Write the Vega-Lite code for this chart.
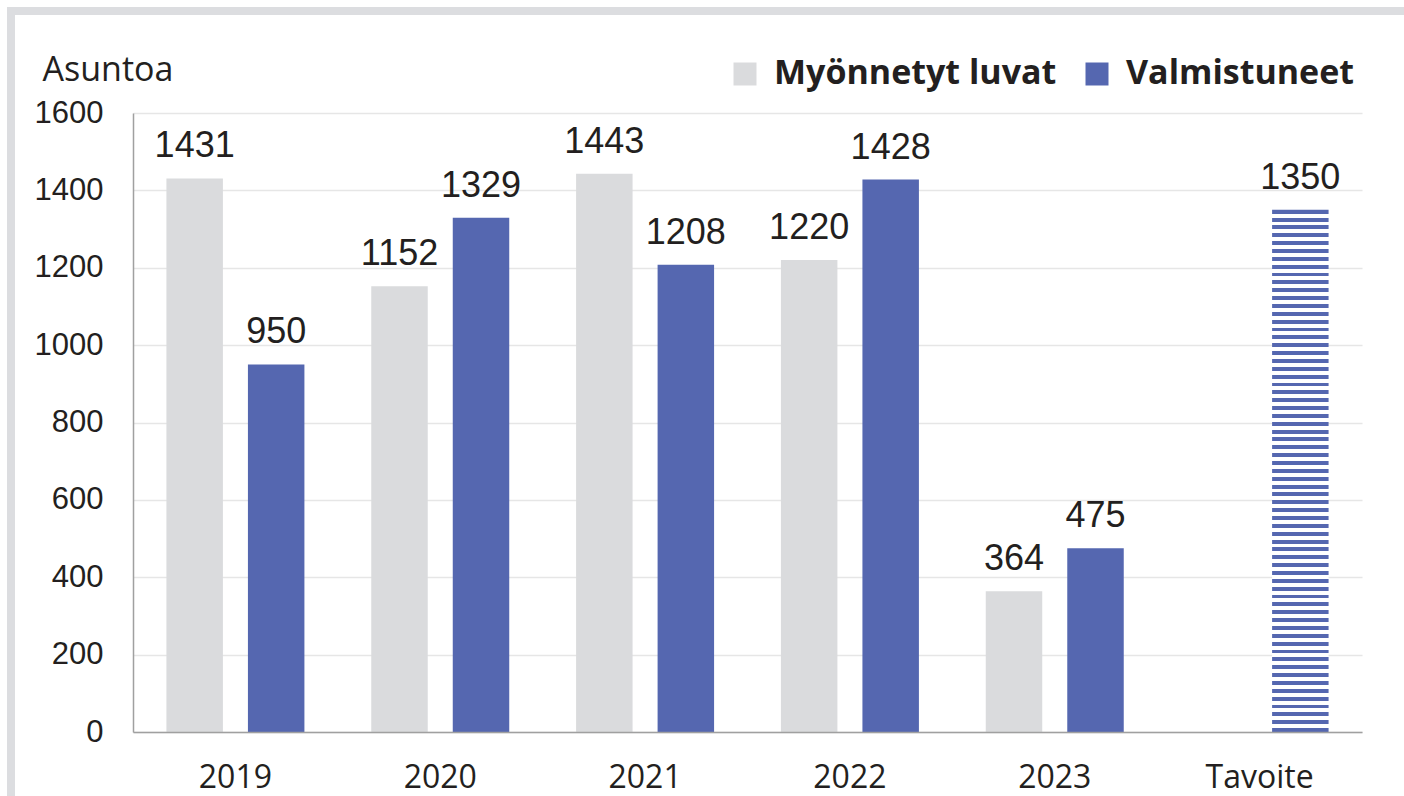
{
  "$schema": "https://vega.github.io/schema/vega-lite/v6.json",
  "width": 1393,
  "height": 785,
  "autosize": {"type": "none"},
  "padding": {"left": 11, "top": 11, "right": 0, "bottom": 0},
  "background": "#ffffff",
  "config": {
    "view": {"stroke": "#dcdde0", "strokeWidth": 8, "strokeDash": [1393, 2178, 785]},
    "text": {"font": "Liberation Sans"}
  },
  "data": {
    "values": [
      {"year": "2019", "series": "Myönnetyt luvat", "kind": "actual", "value": 1431},
      {"year": "2019", "series": "Valmistuneet", "kind": "actual", "value": 950},
      {"year": "2020", "series": "Myönnetyt luvat", "kind": "actual", "value": 1152},
      {"year": "2020", "series": "Valmistuneet", "kind": "actual", "value": 1329},
      {"year": "2021", "series": "Myönnetyt luvat", "kind": "actual", "value": 1443},
      {"year": "2021", "series": "Valmistuneet", "kind": "actual", "value": 1208},
      {"year": "2022", "series": "Myönnetyt luvat", "kind": "actual", "value": 1220},
      {"year": "2022", "series": "Valmistuneet", "kind": "actual", "value": 1428},
      {"year": "2023", "series": "Myönnetyt luvat", "kind": "actual", "value": 364},
      {"year": "2023", "series": "Valmistuneet", "kind": "actual", "value": 475},
      {"year": "Tavoite", "series": "Valmistuneet", "kind": "target", "value": 1350}
    ]
  },
  "encoding": {
    "x": {
      "field": "year", "type": "nominal", "sort": null,
      "scale": {"range": [122, 1351], "paddingInner": 0, "paddingOuter": 0},
      "axis": {
        "title": null, "labelAngle": 0, "labelFont": "Open Sans", "labelFontSize": 32,
        "labelColor": "#231f20", "labelPadding": 55, "labelBaseline": "alphabetic",
        "ticks": false, "tickSize": 0, "domain": true, "domainColor": "#a0a0a0",
        "domainWidth": 1.5, "grid": false, "offset": -64, "zindex": 1
      }
    },
    "xOffset": {
      "field": "series", "type": "nominal", "sort": null,
      "scale": {"domain": ["Myönnetyt luvat", "Valmistuneet"], "paddingInner": 0.307, "paddingOuter": 0.41}
    },
    "y": {
      "field": "value", "type": "quantitative",
      "scale": {"domain": [0, 1600], "range": [721, 102], "nice": false, "zero": true},
      "axis": {
        "title": "Asuntoa", "titleAngle": 0, "titleAlign": "left", "titleBaseline": "alphabetic",
        "titleX": -91, "titleY": 69, "titleFont": "Open Sans", "titleFontSize": 34,
        "titleFontWeight": "normal", "titleColor": "#231f20",
        "values": [0, 200, 400, 600, 800, 1000, 1200, 1400, 1600], "format": "d",
        "labelFont": "Liberation Sans", "labelFontSize": 31, "labelColor": "#231f20",
        "labelPadding": 30, "ticks": false, "tickSize": 0, "domain": true,
        "domainColor": "#a0a0a0", "domainWidth": 1.5, "grid": true,
        "gridColor": "#e6e6e6", "gridWidth": 1.5, "offset": -122
      }
    }
  },
  "layer": [
    {
      "transform": [{"filter": "datum.kind === 'actual'"}],
      "mark": {"type": "bar"},
      "encoding": {
        "color": {
          "field": "series", "type": "nominal",
          "scale": {"domain": ["Myönnetyt luvat", "Valmistuneet"], "range": ["#dadbdd", "#5567b0"]},
          "legend": {
            "orient": "none", "legendX": 717, "legendY": 46, "direction": "horizontal",
            "title": null, "symbolType": "square", "symbolSize": 529, "symbolStrokeWidth": 0,
            "labelFont": "Open Sans", "labelFontWeight": "bold", "labelFontSize": 34,
            "labelColor": "#231f20", "labelOffset": 12, "columnPadding": 23,
            "labelLimit": 0, "padding": 0
          }
        }
      }
    },
    {
      "transform": [{"filter": "datum.kind === 'target'"}],
      "mark": {
        "type": "bar",
        "fill": {
          "gradient": "linear", "x1": 0, "y1": 0, "x2": 0, "y2": 1,
          "stops": [
            {"offset": 0, "color": "#5567b0"},
            {"offset": 0.00752, "color": "#5567b0"}, {"offset": 0.00752, "color": "#ffffff"},
            {"offset": 0.01504, "color": "#ffffff"}, {"offset": 0.01504, "color": "#5567b0"},
            {"offset": 0.02256, "color": "#5567b0"}, {"offset": 0.02256, "color": "#ffffff"},
            {"offset": 0.03008, "color": "#ffffff"}, {"offset": 0.03008, "color": "#5567b0"},
            {"offset": 0.03759, "color": "#5567b0"}, {"offset": 0.03759, "color": "#ffffff"},
            {"offset": 0.04511, "color": "#ffffff"}, {"offset": 0.04511, "color": "#5567b0"},
            {"offset": 0.05263, "color": "#5567b0"}, {"offset": 0.05263, "color": "#ffffff"},
            {"offset": 0.06015, "color": "#ffffff"}, {"offset": 0.06015, "color": "#5567b0"},
            {"offset": 0.06767, "color": "#5567b0"}, {"offset": 0.06767, "color": "#ffffff"},
            {"offset": 0.07519, "color": "#ffffff"}, {"offset": 0.07519, "color": "#5567b0"},
            {"offset": 0.08271, "color": "#5567b0"}, {"offset": 0.08271, "color": "#ffffff"},
            {"offset": 0.09023, "color": "#ffffff"}, {"offset": 0.09023, "color": "#5567b0"},
            {"offset": 0.09774, "color": "#5567b0"}, {"offset": 0.09774, "color": "#ffffff"},
            {"offset": 0.10526, "color": "#ffffff"}, {"offset": 0.10526, "color": "#5567b0"},
            {"offset": 0.11278, "color": "#5567b0"}, {"offset": 0.11278, "color": "#ffffff"},
            {"offset": 0.1203, "color": "#ffffff"}, {"offset": 0.1203, "color": "#5567b0"},
            {"offset": 0.12782, "color": "#5567b0"}, {"offset": 0.12782, "color": "#ffffff"},
            {"offset": 0.13534, "color": "#ffffff"}, {"offset": 0.13534, "color": "#5567b0"},
            {"offset": 0.14286, "color": "#5567b0"}, {"offset": 0.14286, "color": "#ffffff"},
            {"offset": 0.15038, "color": "#ffffff"}, {"offset": 0.15038, "color": "#5567b0"},
            {"offset": 0.15789, "color": "#5567b0"}, {"offset": 0.15789, "color": "#ffffff"},
            {"offset": 0.16541, "color": "#ffffff"}, {"offset": 0.16541, "color": "#5567b0"},
            {"offset": 0.17293, "color": "#5567b0"}, {"offset": 0.17293, "color": "#ffffff"},
            {"offset": 0.18045, "color": "#ffffff"}, {"offset": 0.18045, "color": "#5567b0"},
            {"offset": 0.18797, "color": "#5567b0"}, {"offset": 0.18797, "color": "#ffffff"},
            {"offset": 0.19549, "color": "#ffffff"}, {"offset": 0.19549, "color": "#5567b0"},
            {"offset": 0.20301, "color": "#5567b0"}, {"offset": 0.20301, "color": "#ffffff"},
            {"offset": 0.21053, "color": "#ffffff"}, {"offset": 0.21053, "color": "#5567b0"},
            {"offset": 0.21805, "color": "#5567b0"}, {"offset": 0.21805, "color": "#ffffff"},
            {"offset": 0.22556, "color": "#ffffff"}, {"offset": 0.22556, "color": "#5567b0"},
            {"offset": 0.23308, "color": "#5567b0"}, {"offset": 0.23308, "color": "#ffffff"},
            {"offset": 0.2406, "color": "#ffffff"}, {"offset": 0.2406, "color": "#5567b0"},
            {"offset": 0.24812, "color": "#5567b0"}, {"offset": 0.24812, "color": "#ffffff"},
            {"offset": 0.25564, "color": "#ffffff"}, {"offset": 0.25564, "color": "#5567b0"},
            {"offset": 0.26316, "color": "#5567b0"}, {"offset": 0.26316, "color": "#ffffff"},
            {"offset": 0.27068, "color": "#ffffff"}, {"offset": 0.27068, "color": "#5567b0"},
            {"offset": 0.2782, "color": "#5567b0"}, {"offset": 0.2782, "color": "#ffffff"},
            {"offset": 0.28571, "color": "#ffffff"}, {"offset": 0.28571, "color": "#5567b0"},
            {"offset": 0.29323, "color": "#5567b0"}, {"offset": 0.29323, "color": "#ffffff"},
            {"offset": 0.30075, "color": "#ffffff"}, {"offset": 0.30075, "color": "#5567b0"},
            {"offset": 0.30827, "color": "#5567b0"}, {"offset": 0.30827, "color": "#ffffff"},
            {"offset": 0.31579, "color": "#ffffff"}, {"offset": 0.31579, "color": "#5567b0"},
            {"offset": 0.32331, "color": "#5567b0"}, {"offset": 0.32331, "color": "#ffffff"},
            {"offset": 0.33083, "color": "#ffffff"}, {"offset": 0.33083, "color": "#5567b0"},
            {"offset": 0.33835, "color": "#5567b0"}, {"offset": 0.33835, "color": "#ffffff"},
            {"offset": 0.34586, "color": "#ffffff"}, {"offset": 0.34586, "color": "#5567b0"},
            {"offset": 0.35338, "color": "#5567b0"}, {"offset": 0.35338, "color": "#ffffff"},
            {"offset": 0.3609, "color": "#ffffff"}, {"offset": 0.3609, "color": "#5567b0"},
            {"offset": 0.36842, "color": "#5567b0"}, {"offset": 0.36842, "color": "#ffffff"},
            {"offset": 0.37594, "color": "#ffffff"}, {"offset": 0.37594, "color": "#5567b0"},
            {"offset": 0.38346, "color": "#5567b0"}, {"offset": 0.38346, "color": "#ffffff"},
            {"offset": 0.39098, "color": "#ffffff"}, {"offset": 0.39098, "color": "#5567b0"},
            {"offset": 0.3985, "color": "#5567b0"}, {"offset": 0.3985, "color": "#ffffff"},
            {"offset": 0.40602, "color": "#ffffff"}, {"offset": 0.40602, "color": "#5567b0"},
            {"offset": 0.41353, "color": "#5567b0"}, {"offset": 0.41353, "color": "#ffffff"},
            {"offset": 0.42105, "color": "#ffffff"}, {"offset": 0.42105, "color": "#5567b0"},
            {"offset": 0.42857, "color": "#5567b0"}, {"offset": 0.42857, "color": "#ffffff"},
            {"offset": 0.43609, "color": "#ffffff"}, {"offset": 0.43609, "color": "#5567b0"},
            {"offset": 0.44361, "color": "#5567b0"}, {"offset": 0.44361, "color": "#ffffff"},
            {"offset": 0.45113, "color": "#ffffff"}, {"offset": 0.45113, "color": "#5567b0"},
            {"offset": 0.45865, "color": "#5567b0"}, {"offset": 0.45865, "color": "#ffffff"},
            {"offset": 0.46617, "color": "#ffffff"}, {"offset": 0.46617, "color": "#5567b0"},
            {"offset": 0.47368, "color": "#5567b0"}, {"offset": 0.47368, "color": "#ffffff"},
            {"offset": 0.4812, "color": "#ffffff"}, {"offset": 0.4812, "color": "#5567b0"},
            {"offset": 0.48872, "color": "#5567b0"}, {"offset": 0.48872, "color": "#ffffff"},
            {"offset": 0.49624, "color": "#ffffff"}, {"offset": 0.49624, "color": "#5567b0"},
            {"offset": 0.50376, "color": "#5567b0"}, {"offset": 0.50376, "color": "#ffffff"},
            {"offset": 0.51128, "color": "#ffffff"}, {"offset": 0.51128, "color": "#5567b0"},
            {"offset": 0.5188, "color": "#5567b0"}, {"offset": 0.5188, "color": "#ffffff"},
            {"offset": 0.52632, "color": "#ffffff"}, {"offset": 0.52632, "color": "#5567b0"},
            {"offset": 0.53383, "color": "#5567b0"}, {"offset": 0.53383, "color": "#ffffff"},
            {"offset": 0.54135, "color": "#ffffff"}, {"offset": 0.54135, "color": "#5567b0"},
            {"offset": 0.54887, "color": "#5567b0"}, {"offset": 0.54887, "color": "#ffffff"},
            {"offset": 0.55639, "color": "#ffffff"}, {"offset": 0.55639, "color": "#5567b0"},
            {"offset": 0.56391, "color": "#5567b0"}, {"offset": 0.56391, "color": "#ffffff"},
            {"offset": 0.57143, "color": "#ffffff"}, {"offset": 0.57143, "color": "#5567b0"},
            {"offset": 0.57895, "color": "#5567b0"}, {"offset": 0.57895, "color": "#ffffff"},
            {"offset": 0.58647, "color": "#ffffff"}, {"offset": 0.58647, "color": "#5567b0"},
            {"offset": 0.59398, "color": "#5567b0"}, {"offset": 0.59398, "color": "#ffffff"},
            {"offset": 0.6015, "color": "#ffffff"}, {"offset": 0.6015, "color": "#5567b0"},
            {"offset": 0.60902, "color": "#5567b0"}, {"offset": 0.60902, "color": "#ffffff"},
            {"offset": 0.61654, "color": "#ffffff"}, {"offset": 0.61654, "color": "#5567b0"},
            {"offset": 0.62406, "color": "#5567b0"}, {"offset": 0.62406, "color": "#ffffff"},
            {"offset": 0.63158, "color": "#ffffff"}, {"offset": 0.63158, "color": "#5567b0"},
            {"offset": 0.6391, "color": "#5567b0"}, {"offset": 0.6391, "color": "#ffffff"},
            {"offset": 0.64662, "color": "#ffffff"}, {"offset": 0.64662, "color": "#5567b0"},
            {"offset": 0.65414, "color": "#5567b0"}, {"offset": 0.65414, "color": "#ffffff"},
            {"offset": 0.66165, "color": "#ffffff"}, {"offset": 0.66165, "color": "#5567b0"},
            {"offset": 0.66917, "color": "#5567b0"}, {"offset": 0.66917, "color": "#ffffff"},
            {"offset": 0.67669, "color": "#ffffff"}, {"offset": 0.67669, "color": "#5567b0"},
            {"offset": 0.68421, "color": "#5567b0"}, {"offset": 0.68421, "color": "#ffffff"},
            {"offset": 0.69173, "color": "#ffffff"}, {"offset": 0.69173, "color": "#5567b0"},
            {"offset": 0.69925, "color": "#5567b0"}, {"offset": 0.69925, "color": "#ffffff"},
            {"offset": 0.70677, "color": "#ffffff"}, {"offset": 0.70677, "color": "#5567b0"},
            {"offset": 0.71429, "color": "#5567b0"}, {"offset": 0.71429, "color": "#ffffff"},
            {"offset": 0.7218, "color": "#ffffff"}, {"offset": 0.7218, "color": "#5567b0"},
            {"offset": 0.72932, "color": "#5567b0"}, {"offset": 0.72932, "color": "#ffffff"},
            {"offset": 0.73684, "color": "#ffffff"}, {"offset": 0.73684, "color": "#5567b0"},
            {"offset": 0.74436, "color": "#5567b0"}, {"offset": 0.74436, "color": "#ffffff"},
            {"offset": 0.75188, "color": "#ffffff"}, {"offset": 0.75188, "color": "#5567b0"},
            {"offset": 0.7594, "color": "#5567b0"}, {"offset": 0.7594, "color": "#ffffff"},
            {"offset": 0.76692, "color": "#ffffff"}, {"offset": 0.76692, "color": "#5567b0"},
            {"offset": 0.77444, "color": "#5567b0"}, {"offset": 0.77444, "color": "#ffffff"},
            {"offset": 0.78195, "color": "#ffffff"}, {"offset": 0.78195, "color": "#5567b0"},
            {"offset": 0.78947, "color": "#5567b0"}, {"offset": 0.78947, "color": "#ffffff"},
            {"offset": 0.79699, "color": "#ffffff"}, {"offset": 0.79699, "color": "#5567b0"},
            {"offset": 0.80451, "color": "#5567b0"}, {"offset": 0.80451, "color": "#ffffff"},
            {"offset": 0.81203, "color": "#ffffff"}, {"offset": 0.81203, "color": "#5567b0"},
            {"offset": 0.81955, "color": "#5567b0"}, {"offset": 0.81955, "color": "#ffffff"},
            {"offset": 0.82707, "color": "#ffffff"}, {"offset": 0.82707, "color": "#5567b0"},
            {"offset": 0.83459, "color": "#5567b0"}, {"offset": 0.83459, "color": "#ffffff"},
            {"offset": 0.84211, "color": "#ffffff"}, {"offset": 0.84211, "color": "#5567b0"},
            {"offset": 0.84962, "color": "#5567b0"}, {"offset": 0.84962, "color": "#ffffff"},
            {"offset": 0.85714, "color": "#ffffff"}, {"offset": 0.85714, "color": "#5567b0"},
            {"offset": 0.86466, "color": "#5567b0"}, {"offset": 0.86466, "color": "#ffffff"},
            {"offset": 0.87218, "color": "#ffffff"}, {"offset": 0.87218, "color": "#5567b0"},
            {"offset": 0.8797, "color": "#5567b0"}, {"offset": 0.8797, "color": "#ffffff"},
            {"offset": 0.88722, "color": "#ffffff"}, {"offset": 0.88722, "color": "#5567b0"},
            {"offset": 0.89474, "color": "#5567b0"}, {"offset": 0.89474, "color": "#ffffff"},
            {"offset": 0.90226, "color": "#ffffff"}, {"offset": 0.90226, "color": "#5567b0"},
            {"offset": 0.90977, "color": "#5567b0"}, {"offset": 0.90977, "color": "#ffffff"},
            {"offset": 0.91729, "color": "#ffffff"}, {"offset": 0.91729, "color": "#5567b0"},
            {"offset": 0.92481, "color": "#5567b0"}, {"offset": 0.92481, "color": "#ffffff"},
            {"offset": 0.93233, "color": "#ffffff"}, {"offset": 0.93233, "color": "#5567b0"},
            {"offset": 0.93985, "color": "#5567b0"}, {"offset": 0.93985, "color": "#ffffff"},
            {"offset": 0.94737, "color": "#ffffff"}, {"offset": 0.94737, "color": "#5567b0"},
            {"offset": 0.95489, "color": "#5567b0"}, {"offset": 0.95489, "color": "#ffffff"},
            {"offset": 0.96241, "color": "#ffffff"}, {"offset": 0.96241, "color": "#5567b0"},
            {"offset": 0.96992, "color": "#5567b0"}, {"offset": 0.96992, "color": "#ffffff"},
            {"offset": 0.97744, "color": "#ffffff"}, {"offset": 0.97744, "color": "#5567b0"},
            {"offset": 0.98496, "color": "#5567b0"}, {"offset": 0.98496, "color": "#ffffff"},
            {"offset": 0.99248, "color": "#ffffff"}, {"offset": 0.99248, "color": "#5567b0"},
            {"offset": 1, "color": "#5567b0"}
          ]
        }
      }
    },
    {
      "mark": {"type": "text", "baseline": "alphabetic", "dy": -21, "font": "Liberation Sans", "fontSize": 36, "color": "#231f20"},
      "encoding": {"text": {"field": "value", "type": "quantitative", "format": "d"}}
    }
  ]
}
